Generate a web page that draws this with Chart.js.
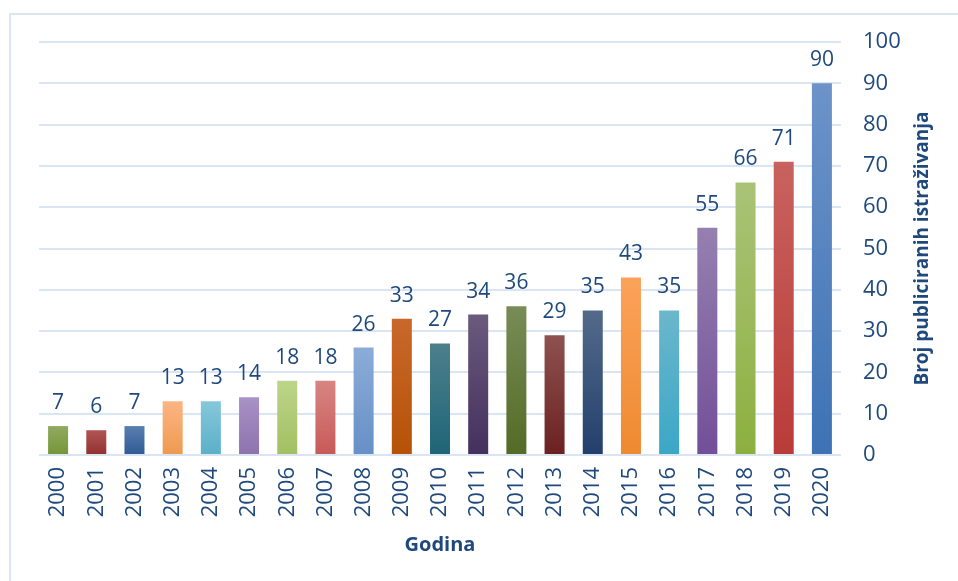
<!DOCTYPE html>
<html>
<head>
<meta charset="utf-8">
<script src="https://cdn.jsdelivr.net/npm/chart.js@4"></script>
<style>
  html, body { margin: 0; padding: 0; background: #fff; }
  #wrap { position: relative; width: 958px; height: 581px; overflow: hidden; }
  #frame { position: absolute; left: 9px; top: 13px; right: -4px; bottom: -4px;
           border-left: 2px solid #DCE6F2; border-top: 2px solid #DCE6F2; }
</style>
</head>
<body>
<div id="wrap">
  <div id="frame"></div>
  <canvas id="myChart" width="958" height="581"></canvas>
</div>
<script>
const years = ['2000', '2001', '2002', '2003', '2004', '2005', '2006', '2007', '2008', '2009', '2010',
               '2011', '2012', '2013', '2014', '2015', '2016', '2017', '2018', '2019', '2020'];
const publications = [7, 6, 7, 13, 13, 14, 18, 18, 26, 33, 27, 34, 36, 29, 35, 43, 35, 55, 66, 71, 90];
const yTicks = [0, 10, 20, 30, 40, 50, 60, 70, 80, 90, 100];

// gornja / donja boja gradijenta za svaki stupac
const barColors = [
    ['#8FAA5E', '#76953A'], ['#AE5655', '#93302F'], ['#5A7FB0', '#2E5A94'], ['#FBB583', '#EE9A50'],
    ['#86C7DA', '#5AB0C8'], ['#A892C6', '#8E72AE'], ['#BCD58A', '#A3BF62'], ['#D88583', '#C75A58'],
    ['#8CACD8', '#6690C6'], ['#C8682B', '#B65206'], ['#4D7F8C', '#1E6577'], ['#6A5A7C', '#44305E'],
    ['#788C56', '#536B25'], ['#8C5250', '#6C2020'], ['#536A8A', '#223F6C'], ['#FBA25A', '#EE8A30'],
    ['#6BB7CC', '#3AA7C6'], ['#9580B0', '#724F98'], ['#AAC378', '#8CB03F'], ['#C8625F', '#B93B38'],
    ['#6D93C9', '#3D72B4']
];

const textColor = '#1F497D';
const fontFamily = '"Open Sans", "Noto Sans", sans-serif';

const valueLabels = {
    id: 'valueLabels',
    afterDatasetsDraw(chart) {
        const ctx = chart.ctx;
        const meta = chart.getDatasetMeta(0);
        ctx.save();
        ctx.fillStyle = textColor;
        ctx.font = '21px ' + fontFamily;
        ctx.textAlign = 'center';
        ctx.textBaseline = 'alphabetic';
        meta.data.forEach((bar, i) => {
            ctx.fillText(String(publications[i]), bar.x, bar.y - 17);
        });
        ctx.restore();
    }
};

const rightTitle = {
    id: 'rightTitle',
    afterDraw(chart) {
        const ctx = chart.ctx;
        const area = chart.chartArea;
        ctx.save();
        ctx.translate(923, (area.top + area.bottom) / 2);
        ctx.rotate(-Math.PI / 2);
        ctx.fillStyle = textColor;
        ctx.font = 'bold 19px ' + fontFamily;
        ctx.textAlign = 'center';
        ctx.textBaseline = 'middle';
        ctx.fillText('Broj publiciranih istraživanja', 0, 0);
        ctx.restore();
    }
};

const ctx = document.getElementById('myChart').getContext('2d');

window.myChart = new Chart(ctx, {
    type: 'bar',
    data: {
        labels: years,
        datasets: [{
            label: 'Broj publiciranih istraživanja',
            data: publications,
            backgroundColor: function(context) {
                const chart = context.chart;
                const pair = barColors[context.dataIndex];
                if (!chart.chartArea || context.raw === undefined) {
                    return pair[1];
                }
                const yScale = chart.scales.y;
                const top = yScale.getPixelForValue(context.raw);
                const bottom = yScale.getPixelForValue(0);
                const g = chart.ctx.createLinearGradient(0, top, 0, bottom);
                g.addColorStop(0, pair[0]);
                g.addColorStop(1, pair[1]);
                return g;
            },
            borderWidth: 0,
            categoryPercentage: 1,
            barPercentage: 0.524
        }]
    },
    options: {
        responsive: false,
        animation: false,
        layout: {
            padding: { left: 39, top: 42, right: 0, bottom: 0 }
        },
        plugins: {
            legend: { display: false },
            tooltip: { enabled: false }
        },
        scales: {
            x: {
                grid: { display: false, drawTicks: false },
                border: { display: false },
                ticks: {
                    color: textColor,
                    font: { family: fontFamily, size: 22 },
                    minRotation: 90,
                    maxRotation: 90,
                    padding: 12
                },
                title: {
                    display: true,
                    text: 'Godina',
                    color: textColor,
                    font: { family: fontFamily, size: 20, weight: 'bold' },
                    padding: { top: 0, bottom: 24 }
                },
                afterFit(scale) { scale.height = 126; }
            },
            y: {
                position: 'right',
                min: 0,
                max: 100,
                grid: { color: '#DAE5F3', lineWidth: 2, drawTicks: false },
                border: { display: false },
                afterBuildTicks(scale) {
                    scale.ticks = yTicks.map(v => ({ value: v }));
                },
                ticks: {
                    color: textColor,
                    font: { family: fontFamily, size: 22 },
                    padding: 22
                },
                afterFit(scale) { scale.width = 117; }
            }
        }
    },
    plugins: [valueLabels, rightTitle]
});
</script>
</body>
</html>
